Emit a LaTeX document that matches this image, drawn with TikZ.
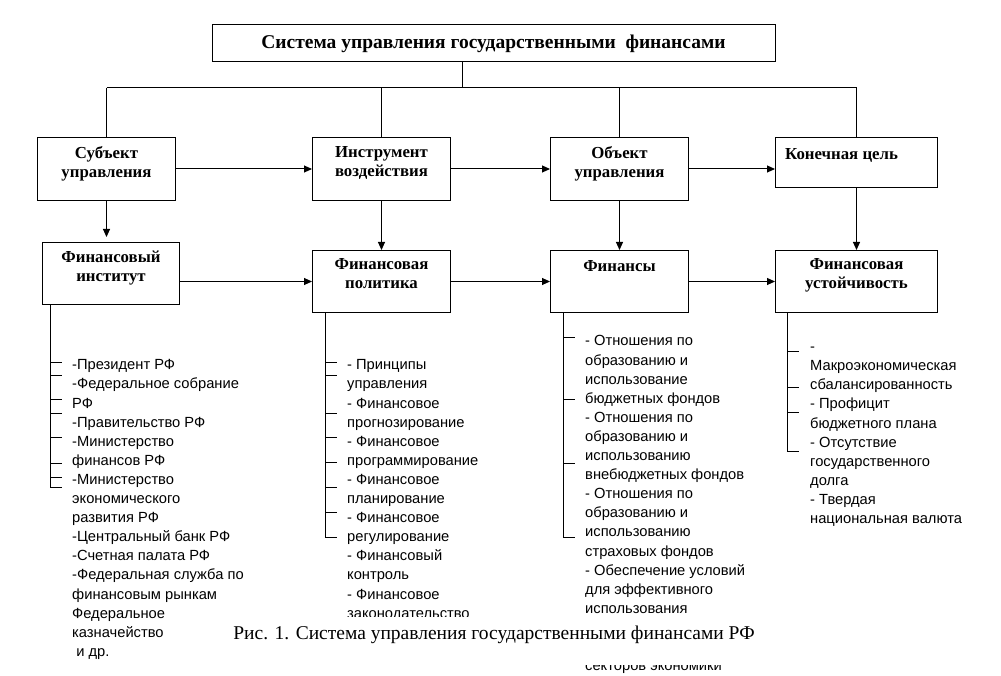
\documentclass[tikz,border=0pt]{standalone}
\usepackage{fontspec}
\setmainfont{Liberation Serif}
\setsansfont{Liberation Sans}
\usetikzlibrary{positioning,arrows.meta}
\tikzset{
	unitbox/.style={draw, line width=1pt, anchor=north west, inner sep=0pt, minimum width=138pt, minimum height=63pt},
	boxtext/.style={font=\fontsize{16.8}{19}\selectfont\bfseries, align=center, inner sep=0pt, anchor=north, execute at begin node=\strut},
	listtext/.style={font=\fontsize{14.7}{19.1}\selectfont\sffamily, align=left, inner sep=0pt, anchor=north west, execute at begin node=\strut},
	conn/.style={line width=1pt},
	arr/.style={line width=1pt, -{Triangle[length=8pt,width=7pt]}},
}

\begin{document}
\begin{tikzpicture}[x=1pt,y=-1pt]
	\useasboundingbox (0,0) rectangle (1001,676);
	% title
	\node[draw, line width=1pt, minimum width=563pt, minimum height=37pt, inner sep=0pt,
		font=\fontsize{19.5}{22}\selectfont\bfseries] (title) at (493.5,43.5)
		{Система управления государственными \ финансами};
	\coordinate (stem) at (462,0);
	\coordinate (bus) at (0,88);
	% first row
	\node[unitbox] (subj) at (37,137) {};
	\node[unitbox] (tool) at (312,137) {};
	\node[unitbox] (obj) at (550,137) {};
	\node[unitbox, minimum width=162pt, minimum height=50pt] (goal) at (775,137) {};
	\node[boxtext, below=9.5pt of subj.north] {Субъект\\управления};
	\node[boxtext, below=9.5pt of tool.north] {Инструмент\\воздействия};
	\node[boxtext, below=9.5pt of obj.north] {Объект\\управления};
	\node[boxtext, anchor=north west, below right=9.5pt and 10pt of goal.north west] {Конечная цель};
	% second row
	\node[unitbox, minimum width=137pt, minimum height=62pt] (inst) at (42,242) {};
	\node[unitbox, minimum height=62pt] (policy) at (312,250) {};
	\node[unitbox, minimum height=62pt] (fin) at (550,250) {};
	\node[unitbox, minimum width=162pt, minimum height=62pt] (stab) at (775,250) {};
	\node[boxtext, below=9pt of inst.north] {Финансовый\\институт};
	\node[boxtext, below=8.5pt of policy.north] {Финансовая\\политика};
	\node[boxtext, below=8.5pt of fin.north] {Финансы};
	\node[boxtext, below=8.5pt of stab.north] {Финансовая\\устойчивость};
	% tree from the title
	\draw[conn] (stem |- title.south) -- (stem |- bus);
	\draw[conn] (subj.north |- bus) -- (goal.north |- bus);
	\foreach \b in {subj,tool,obj,goal}
		\draw[conn] (\b.north |- bus) -- (\b.north);
	% arrows
	\draw[arr] (subj.east) -- (tool.west |- subj.east);
	\draw[arr] (tool.east) -- (obj.west |- tool.east);
	\draw[arr] (obj.east) -- (goal.west |- obj.east);
	\draw[arr] (inst.east |- policy.west) -- (policy.west);
	\draw[arr] (policy.west -| policy.east) -- (fin.west);
	\draw[arr] (fin.east) -- (stab.west);
	\draw[arr, shorten >=5pt] (subj.south) -- (subj.south |- inst.north);
	\draw[arr] (tool.south) -- (policy.north);
	\draw[arr] (obj.south) -- (fin.north);
	\draw[arr] (goal.south) -- (stab.north);
	% lists
	\coordinate (l1) at (50,487);
	\coordinate (l2) at (325,537);
	\coordinate (l3) at (563,537);
	\coordinate (l4) at (787,452);
	\draw[conn] (l1 |- inst.south) -- (l1);
	\draw[conn] (l2 |- policy.south) -- (l2);
	\draw[conn] (l3 |- fin.south) -- (l3);
	\draw[conn] (l4 |- stab.south) -- (l4);
	\foreach \y in {362,375,399,413,437,463,477,487}
		\draw[conn] (50,\y) -- ++(12,0);
	\foreach \y in {362,375,413,437,462,487,512,537}
		\draw[conn] (325,\y) -- ++(12,0);
	\foreach \y in {337,399,463,537}
		\draw[conn] (563,\y) -- ++(12,0);
	\foreach \y in {351,387,412,451}
		\draw[conn] (787,\y) -- ++(12,0);
	\node[listtext] (list1) at (72,359.5) {-Президент РФ\\-Федеральное собрание\\РФ\\-Правительство РФ\\-Министерство\\финансов РФ\\-Министерство\\экономического\\развития РФ\\-Центральный банк РФ\\-Счетная палата РФ\\-Федеральная служба по\\финансовым рынкам\\Федеральное\\казначейство\\\ и др.};
	\node[listtext] (list2) at (347,359.5) {- Принципы\\управления\\- Финансовое\\прогнозирование\\- Финансовое\\программирование\\- Финансовое\\планирование\\- Финансовое\\регулирование\\- Финансовый\\контроль\\- Финансовое\\законодательство};
	\node[listtext] (list3) at (585,335.5) {- Отношения по\\образованию и\\использование\\бюджетных фондов\\- Отношения по\\образованию и\\использованию\\внебюджетных фондов\\- Отношения по\\образованию и\\использованию\\страховых фондов\\- Обеспечение условий\\для эффективного\\использования\\\\\\секторов экономики};
	\node[listtext] (list4) at (810,347) {-\\Макроэкономическая\\сбалансированность\\- Профицит\\бюджетного плана\\- Отсутствие\\государственного\\долга\\- Твердая\\национальная валюта};
	% caption on a white patch
	\fill[white] (225,617) rectangle (780,665);
	\node[font=\fontsize{19.5}{22}\selectfont, inner sep=0pt] (caption) at (494,635)
		{Рис. 1. Система управления государственными финансами РФ};
\end{tikzpicture}
\end{document}
